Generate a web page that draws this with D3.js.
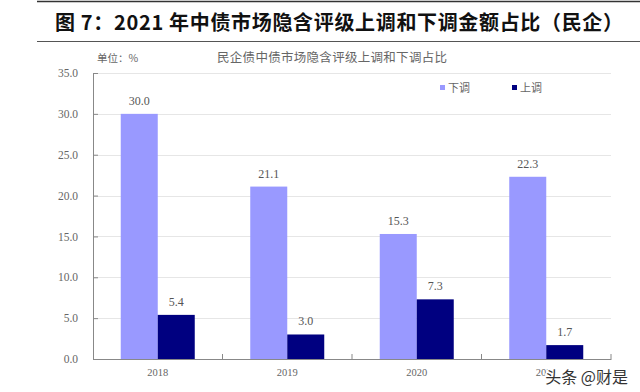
<!DOCTYPE html>
<html>
<head>
<meta charset="utf-8">
<script src="https://cdn.jsdelivr.net/npm/d3@7"></script>
<style>
  body { margin: 0; background: #fff; }
  svg { display: block; }
</style>
</head>
<body>
<svg id="chart" width="640" height="392"></svg>
<script>
const years = ["2018", "2019", "2020", "2021"];
const down = [30.0, 21.1, 15.3, 22.3];
const up = [5.4, 3.0, 7.3, 1.7];
const seriesNames = ["下调", "上调"];
const yTicks = [0, 5, 10, 15, 20, 25, 30, 35];

const colors = ["#9999ff", "#000080"];
const numFont = "'Liberation Serif', 'DejaVu Serif', serif";
const cjkFont = "'Noto Sans CJK SC', sans-serif";

const svg = d3.select("#chart");

// header lines and title
svg.append("line").attr("x1", 37).attr("x2", 640).attr("y1", 1.5).attr("y2", 1.5)
  .attr("stroke", "#333").attr("stroke-width", 1.5);
svg.append("line").attr("x1", 37).attr("x2", 640).attr("y1", 41.5).attr("y2", 41.5)
  .attr("stroke", "#555").attr("stroke-width", 1.2);
svg.append("text")
  .attr("x", 55).attr("y", 30)
  .attr("font-family", cjkFont)
  .attr("font-weight", "bold")
  .attr("font-size", 20)
  .attr("fill", "#111")
  .attr("textLength", 568)
  .attr("lengthAdjust", "spacing")
  .text("图 7：2021 年中债市场隐含评级上调和下调金额占比（民企）");

const x0 = 93, x1 = 611, yTop = 73, yBottom = 359;

const x = d3.scaleBand().domain(years).range([x0, x1]);
const xInner = d3.scaleBand().domain(seriesNames).range([0, 74]);
const y = d3.scaleLinear().domain([0, 35]).range([yBottom, yTop]);

// gridlines
svg.append("g")
  .selectAll("line")
  .data(yTicks.filter(d => d > 0))
  .join("line")
  .attr("x1", x0).attr("x2", x1)
  .attr("y1", d => Math.round(y(d)) + 0.5).attr("y2", d => Math.round(y(d)) + 0.5)
  .attr("stroke", "#e6e6e6");

// subtitle texts
svg.append("text").attr("x", 97).attr("y", 62)
  .attr("font-family", cjkFont).attr("font-size", 10.5).attr("fill", "#666")
  .text("单位：%");
svg.append("text").attr("x", 217).attr("y", 62)
  .attr("font-family", cjkFont).attr("font-size", 12.5).attr("fill", "#666")
  .attr("textLength", 230)
  .text("民企债中债市场隐含评级上调和下调占比");

// bars
const data = [down, up];
const groups = svg.append("g")
  .selectAll("g")
  .data(years)
  .join("g")
  .attr("transform", d => `translate(${x(d) + (x.bandwidth() - 74) / 2},0)`);

groups.selectAll("rect")
  .data((d, i) => seriesNames.map((s, j) => ({ s, v: data[j][i] })))
  .join("rect")
  .attr("x", d => xInner(d.s))
  .attr("width", xInner.bandwidth())
  .attr("y", d => y(d.v))
  .attr("height", d => y(0) - y(d.v))
  .attr("fill", (d, j) => colors[j]);

groups.selectAll("text")
  .data((d, i) => seriesNames.map((s, j) => ({ s, v: data[j][i] })))
  .join("text")
  .attr("x", d => xInner(d.s) + xInner.bandwidth() / 2)
  .attr("y", d => y(d.v) - 9)
  .attr("text-anchor", "middle")
  .attr("font-family", numFont)
  .attr("font-size", 12)
  .attr("fill", "#555")
  .text(d => d.v.toFixed(1));

// y axis
const yAxis = svg.append("g")
  .attr("transform", `translate(${x0},0)`)
  .call(d3.axisLeft(y).tickValues(yTicks).tickSize(-5).tickPadding(15).tickFormat(d3.format(".1f")));
yAxis.select(".domain").attr("stroke", "#888");
yAxis.selectAll(".tick line").attr("stroke", "#888");
yAxis.selectAll("text").attr("font-family", numFont).attr("font-size", 11.5).attr("fill", "#666");

// x axis
const xAxis = svg.append("g")
  .attr("transform", `translate(0,${yBottom})`)
  .call(d3.axisBottom(x).tickSize(0).tickPadding(10));
xAxis.select(".domain").attr("stroke", "#888");
xAxis.selectAll("text").attr("font-family", numFont).attr("font-size", 10.5).attr("fill", "#666");
xAxis.selectAll(".bound")
  .data(years)
  .join("line")
  .attr("class", "bound")
  .attr("x1", d => x(d) + x.bandwidth()).attr("x2", d => x(d) + x.bandwidth())
  .attr("y1", 0).attr("y2", -5)
  .attr("stroke", "#888");

// legend
const legend = svg.append("g")
  .selectAll("g")
  .data(seriesNames)
  .join("g")
  .attr("transform", (d, i) => `translate(${440 + i * 72},90)`);
legend.append("rect").attr("x", 0).attr("y", -5).attr("width", 5).attr("height", 5)
  .attr("fill", (d, i) => colors[i]);
legend.append("text").attr("x", 8).attr("y", 2)
  .attr("font-family", cjkFont).attr("font-size", 11).attr("fill", "#666")
  .text(d => d);

// watermark
svg.append("text").attr("x", 628).attr("y", 383)
  .attr("text-anchor", "end")
  .attr("font-family", cjkFont).attr("font-size", 16)
  .attr("fill", "#333")
  .attr("stroke", "#fff").attr("stroke-width", 3).attr("paint-order", "stroke")
  .text("头条 @财是");
</script>
</body>
</html>
